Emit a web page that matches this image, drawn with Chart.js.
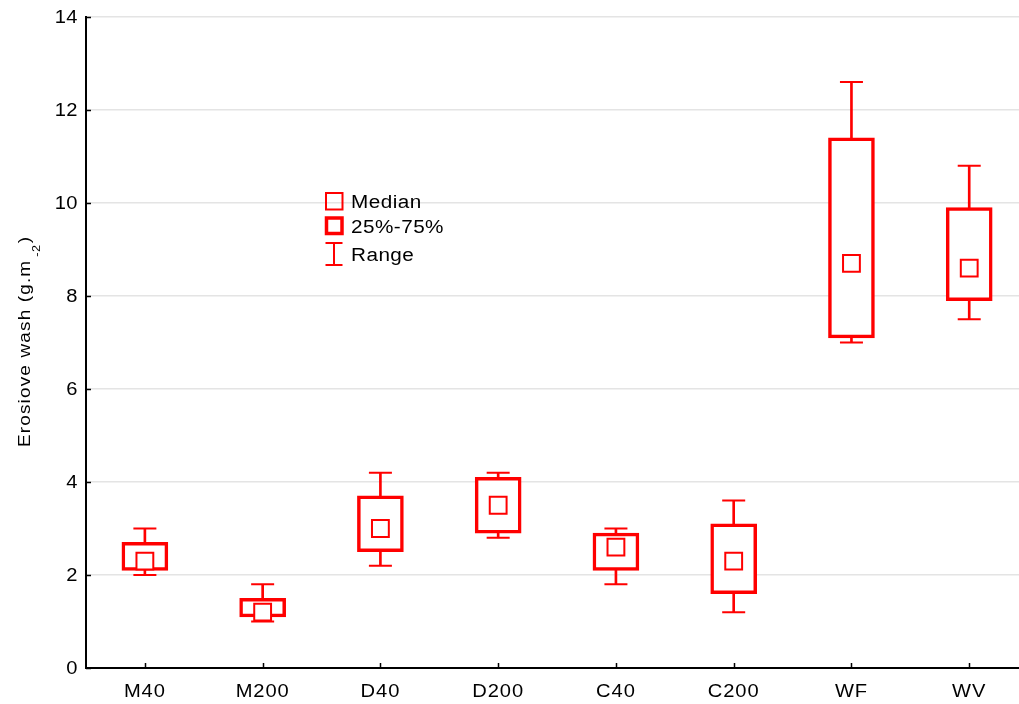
<!DOCTYPE html>
<html>
<head>
<meta charset="utf-8">
<script src="https://cdn.jsdelivr.net/npm/chart.js@4/dist/chart.umd.min.js"></script>
<style>
  html, body { margin: 0; padding: 0; background: #fff; overflow: hidden; }
  #wrap { width: 1019px; height: 704px; overflow: hidden; position: relative; }
  canvas { display: block; }
</style>
</head>
<body>
<div id="wrap"><canvas id="c" width="1042" height="704"></canvas></div>
<script>
// Erosive wash per treatment: range, quartiles and median
const categories   = ['M40', 'M200', 'D40', 'D200', 'C40', 'C200', 'WF', 'WV'];
const minValues    = [2.0, 1.0, 2.2, 2.8, 1.8, 1.2, 7.0, 7.5];
const q1Values     = [2.1, 1.1, 2.5, 2.9, 2.1, 1.6, 7.1, 7.9];
const medianValues = [2.3, 1.2, 3.0, 3.5, 2.6, 2.3, 8.7, 8.6];
const q3Values     = [2.7, 1.5, 3.7, 4.1, 2.9, 3.1, 11.4, 9.9];
const maxValues    = [3.0, 1.8, 4.2, 4.2, 3.0, 3.6, 12.6, 10.8];
const yTicks       = [0, 2, 4, 6, 8, 10, 12, 14];
const yTitleMain   = 'Erosiove wash (g.m';
const yTitleExp    = '-2';
const yTitleEnd    = ')';
const legendLabels = ['Median', '25%-75%', 'Range'];

const RED = '#ff0000';
const FONT = '"Liberation Sans", Arial, Helvetica, sans-serif';

const stems = categories.map((c, i) => [minValues[i], maxValues[i]]);
const boxes = categories.map((c, i) => [q1Values[i], q3Values[i]]);

// Wide-set label text (horizontally stretched Arial look)
function wideText(ctx, text, x, y, size, align, opts = {}) {
  const sx = opts.stretch || 1.15;
  ctx.save();
  ctx.translate(x, y);
  if (opts.rotate) ctx.rotate(opts.rotate);
  ctx.scale(sx, 1);
  ctx.font = size + 'px ' + FONT;
  ctx.letterSpacing = (opts.spacing || 0) + 'px';
  ctx.textAlign = align;
  ctx.textBaseline = 'alphabetic';
  ctx.fillStyle = '#000';
  ctx.fillText(text, 0, opts.dy || 0);
  const w = ctx.measureText(text).width * sx;
  ctx.restore();
  return w;
}

// Inward tick marks, tick labels, rotated axis title, in-plot legend
const decorations = {
  id: 'decorations',
  afterDraw(chart) {
    const ctx = chart.ctx;
    const xs = chart.scales.x, ys = chart.scales.y;
    const area = chart.chartArea;

    ctx.save();
    ctx.strokeStyle = '#000';
    ctx.lineWidth = 1.5;
    ctx.beginPath();
    yTicks.forEach(v => {
      const p = Math.round(ys.getPixelForValue(v)) + 0.5;
      ctx.moveTo(area.left, p);
      ctx.lineTo(area.left + 5, p);
    });
    categories.forEach((c, i) => {
      const p = Math.round(xs.getPixelForValue(i)) + 0.5;
      ctx.moveTo(p, area.bottom);
      ctx.lineTo(p, area.bottom - 5);
    });
    ctx.stroke();
    ctx.restore();

    // tick labels
    yTicks.forEach(v => {
      wideText(ctx, String(v), area.left - 8, ys.getPixelForValue(v) + 6.3, 17.5, 'right', { spacing: 0.4 });
    });
    categories.forEach((c, i) => {
      wideText(ctx, c, xs.getPixelForValue(i), area.bottom + 29, 17.5, 'center', { spacing: 0.8 });
    });

    // y axis title with exponent
    const rot = -Math.PI / 2;
    ctx.save();
    ctx.translate(30, 447);
    ctx.rotate(rot);
    let pos = wideText(ctx, yTitleMain, 0, 0, 16.5, 'left', { spacing: 1 });
    pos += 3;
    pos += wideText(ctx, yTitleExp, pos, 10, 11, 'left', { spacing: 0.5 });
    pos += 1;
    wideText(ctx, yTitleEnd, pos, 0, 16.5, 'left', { spacing: 1 });
    ctx.restore();

    // legend
    ctx.save();
    ctx.strokeStyle = RED;
    ctx.lineWidth = 2;
    ctx.strokeRect(326, 193, 16.5, 16.5);
    ctx.lineWidth = 3.5;
    ctx.strokeRect(326.5, 218, 15.5, 15.5);
    ctx.lineWidth = 2;
    ctx.beginPath();
    ctx.moveTo(334, 243); ctx.lineTo(334, 265);
    ctx.moveTo(325.5, 243); ctx.lineTo(342.5, 243);
    ctx.moveTo(325.5, 265); ctx.lineTo(342.5, 265);
    ctx.stroke();
    ctx.restore();
    wideText(ctx, legendLabels[0], 351, 207.5, 18, 'left', { spacing: 0.4 });
    wideText(ctx, legendLabels[1], 351, 232.5, 18, 'left', { spacing: 0.4 });
    wideText(ctx, legendLabels[2], 351, 261, 18, 'left', { spacing: 0.4 });
  }
};

new Chart(document.getElementById('c'), {
  type: 'bar',
  data: {
    labels: categories,
    datasets: [
      {
        label: 'Range',
        data: stems,
        backgroundColor: RED,
        borderWidth: 0,
        barThickness: 2,
        grouped: false,
        order: 4
      },
      {
        label: '25%-75%',
        data: boxes,
        backgroundColor: '#ffffff',
        borderColor: RED,
        borderWidth: 3.5,
        borderSkipped: false,
        barThickness: 46,
        grouped: false,
        order: 3
      },
      {
        type: 'line',
        label: 'Max',
        data: maxValues,
        showLine: false,
        pointStyle: 'line',
        pointRadius: 11.5,
        pointBorderWidth: 2,
        pointBorderColor: RED,
        order: 2
      },
      {
        type: 'line',
        label: 'Min',
        data: minValues,
        showLine: false,
        pointStyle: 'line',
        pointRadius: 11.5,
        pointBorderWidth: 2,
        pointBorderColor: RED,
        order: 2
      },
      {
        type: 'line',
        label: 'Median',
        data: medianValues,
        showLine: false,
        pointStyle: 'rect',
        pointRadius: 11.9,
        pointBorderWidth: 2,
        pointBorderColor: RED,
        pointBackgroundColor: '#ffffff',
        order: 1
      }
    ]
  },
  options: {
    responsive: false,
    animation: false,
    events: [],
    devicePixelRatio: 1,
    layout: { padding: { top: 17, left: 0, right: 0, bottom: 0 } },
    plugins: {
      legend: { display: false },
      tooltip: { enabled: false },
      title: { display: false }
    },
    scales: {
      x: {
        type: 'category',
        offset: true,
        grid: { display: false, drawTicks: false },
        border: { display: true, color: '#000', width: 2 },
        ticks: { display: false, autoSkip: false },
        afterFit(s) { s.height = 36; s.paddingLeft = 0; s.paddingRight = 0; }
      },
      y: {
        min: 0,
        max: 14,
        grid: { color: '#e4e4e4', lineWidth: 1.5, drawTicks: false },
        border: { display: true, color: '#000', width: 2 },
        ticks: { display: false, stepSize: 2 },
        afterFit(s) { s.width = 86; s.paddingTop = 0; s.paddingBottom = 0; }
      }
    }
  },
  plugins: [decorations]
});
</script>
</body>
</html>
